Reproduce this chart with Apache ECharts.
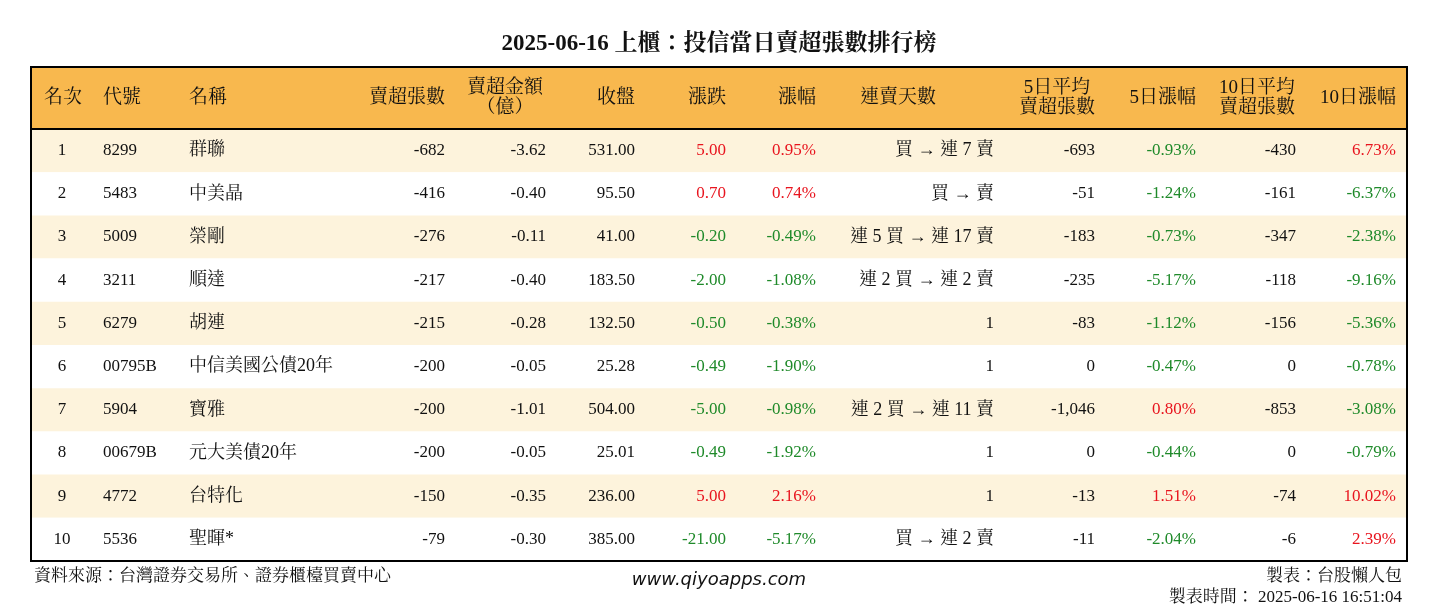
<!DOCTYPE html>
<html><head><meta charset="utf-8">
<script src="https://cdn.jsdelivr.net/npm/echarts@6/dist/echarts.min.js"></script>
<style>html,body{margin:0;background:#fff}#c{width:1438px;height:612px}</style>
</head><body><div id="c"></div>
<script>
var headers = ['名次', '代號', '名稱', '賣超張數', '賣超金額\n（億）', '收盤', '漲跌', '漲幅', '連賣天數', '5日平均\n賣超張數', '5日漲幅', '10日平均\n賣超張數', '10日漲幅'];
var ranks = [1, 2, 3, 4, 5, 6, 7, 8, 9, 10];
var codes = ['8299', '5483', '5009', '3211', '6279', '00795B', '5904', '00679B', '4772', '5536'];
var names = ['群聯', '中美晶', '榮剛', '順達', '胡連', '中信美國公債20年', '寶雅', '元大美債20年', '台特化', '聖暉*'];
var netSell = ['-682', '-416', '-276', '-217', '-215', '-200', '-200', '-200', '-150', '-79'];
var amount = ['-3.62', '-0.40', '-0.11', '-0.40', '-0.28', '-0.05', '-1.01', '-0.05', '-0.35', '-0.30'];
var close = ['531.00', '95.50', '41.00', '183.50', '132.50', '25.28', '504.00', '25.01', '236.00', '385.00'];
var change = ['5.00', '0.70', '-0.20', '-2.00', '-0.50', '-0.49', '-5.00', '-0.49', '5.00', '-21.00'];
var changePct = ['0.95%', '0.74%', '-0.49%', '-1.08%', '-0.38%', '-1.90%', '-0.98%', '-1.92%', '2.16%', '-5.17%'];
var streak = ['買 → 連 7 賣', '買 → 賣', '連 5 買 → 連 17 賣', '連 2 買 → 連 2 賣', '1', '1', '連 2 買 → 連 11 賣', '1', '1', '買 → 連 2 賣'];
var avg5 = ['-693', '-51', '-183', '-235', '-83', '0', '-1,046', '0', '-13', '-11'];
var pct5 = ['-0.93%', '-1.24%', '-0.73%', '-5.17%', '-1.12%', '-0.47%', '0.80%', '-0.44%', '1.51%', '-2.04%'];
var avg10 = ['-430', '-161', '-347', '-118', '-156', '0', '-853', '0', '-74', '-6'];
var pct10 = ['6.73%', '-6.37%', '-2.38%', '-9.16%', '-5.36%', '-0.78%', '-3.08%', '-0.79%', '10.02%', '2.39%'];

var chart = echarts.init(document.getElementById('c'));
var L = 31, R = 1407, T = 67, HB = 129, RH = 43.2;
var serif = '"Liberation Serif","Noto Serif CJK TC","Noto Sans CJK TC",serif';
var RED = '#e8141e', GREEN = '#1f8a2a';
function col(v) { return v.charAt(0) === '-' ? GREEN : RED; }
function hasCjk(v) { return /[\u3000-\u9fff]/.test(v); }
// 欄位位置與對齊
var cols = [
  {x: 62, a: 'center', d: ranks},
  {x: 103, a: 'left', d: codes},
  {x: 189, a: 'left', d: names},
  {x: 445, a: 'right', d: netSell},
  {x: 546, a: 'right', d: amount},
  {x: 635, a: 'right', d: close},
  {x: 726, a: 'right', d: change, c: true},
  {x: 816, a: 'right', d: changePct, c: true},
  {x: 994, a: 'right', d: streak},
  {x: 1095, a: 'right', d: avg5},
  {x: 1196, a: 'right', d: pct5, c: true},
  {x: 1296, a: 'right', d: avg10},
  {x: 1396, a: 'right', d: pct10, c: true}
];
var hpos = [[44, 'left'], [103, 'left'], [189, 'left'], [445, 'right'], [505, 'center'], [635, 'right'], [726, 'right'], [816, 'right'], [898, 'center'], [1057, 'center'], [1196, 'right'], [1257, 'center'], [1396, 'right']];

var g = [];
g.push({type: 'rect', shape: {x: L, y: T, width: R - L, height: HB - T}, style: {fill: '#f8b84e'}});
for (var i = 0; i < ranks.length; i++) {
  g.push({type: 'rect', shape: {x: L, y: HB + i * RH, width: R - L, height: RH}, style: {fill: i % 2 === 0 ? '#fdf3dc' : '#ffffff'}});
}
headers.forEach(function (h, j) {
  g.push({type: 'text', x: hpos[j][0], y: (T + HB) / 2, style: {text: h, fontFamily: serif, fontSize: 19, lineHeight: 20, fill: '#111', align: hpos[j][1], verticalAlign: 'middle'}});
});
cols.forEach(function (c) {
  c.d.forEach(function (v, i) {
    v = String(v);
    g.push({type: 'text', x: c.x, y: HB + i * RH + RH / 2, style: {text: v, fontFamily: serif, fontSize: hasCjk(v) ? 18 : 17, fill: c.c ? col(v) : '#111', align: c.a, verticalAlign: 'middle'}});
  });
});
g.push({type: 'line', shape: {x1: L, y1: HB, x2: R, y2: HB}, style: {stroke: '#000', lineWidth: 2}});
g.push({type: 'rect', shape: {x: L, y: T, width: R - L, height: HB + RH * 10 - T}, style: {fill: null, stroke: '#000', lineWidth: 2}});
g.push({type: 'text', x: 34, y: 577, style: {text: '資料來源：台灣證券交易所、證券櫃檯買賣中心', fontFamily: serif, fontSize: 17, fill: '#111', verticalAlign: 'middle'}});
g.push({type: 'text', x: 719, y: 580, style: {text: 'www.qiyoapps.com', fontFamily: '"DejaVu Sans",sans-serif', fontStyle: 'italic', fontSize: 18, fill: '#111', align: 'center', verticalAlign: 'middle'}});
g.push({type: 'text', x: 1402, y: 577, style: {text: '製表：台股懶人包', fontFamily: serif, fontSize: 17, fill: '#111', align: 'right', verticalAlign: 'middle'}});
g.push({type: 'text', x: 1402, y: 598, style: {text: '製表時間： 2025-06-16 16:51:04', fontFamily: serif, fontSize: 17, fill: '#111', align: 'right', verticalAlign: 'middle'}});

chart.setOption({
  title: {text: '2025-06-16 上櫃：投信當日賣超張數排行榜', left: 'center', top: 28, textStyle: {fontFamily: serif, fontSize: 23, fontWeight: 'bold', color: '#111'}},
  graphic: g
});
</script></body></html>
